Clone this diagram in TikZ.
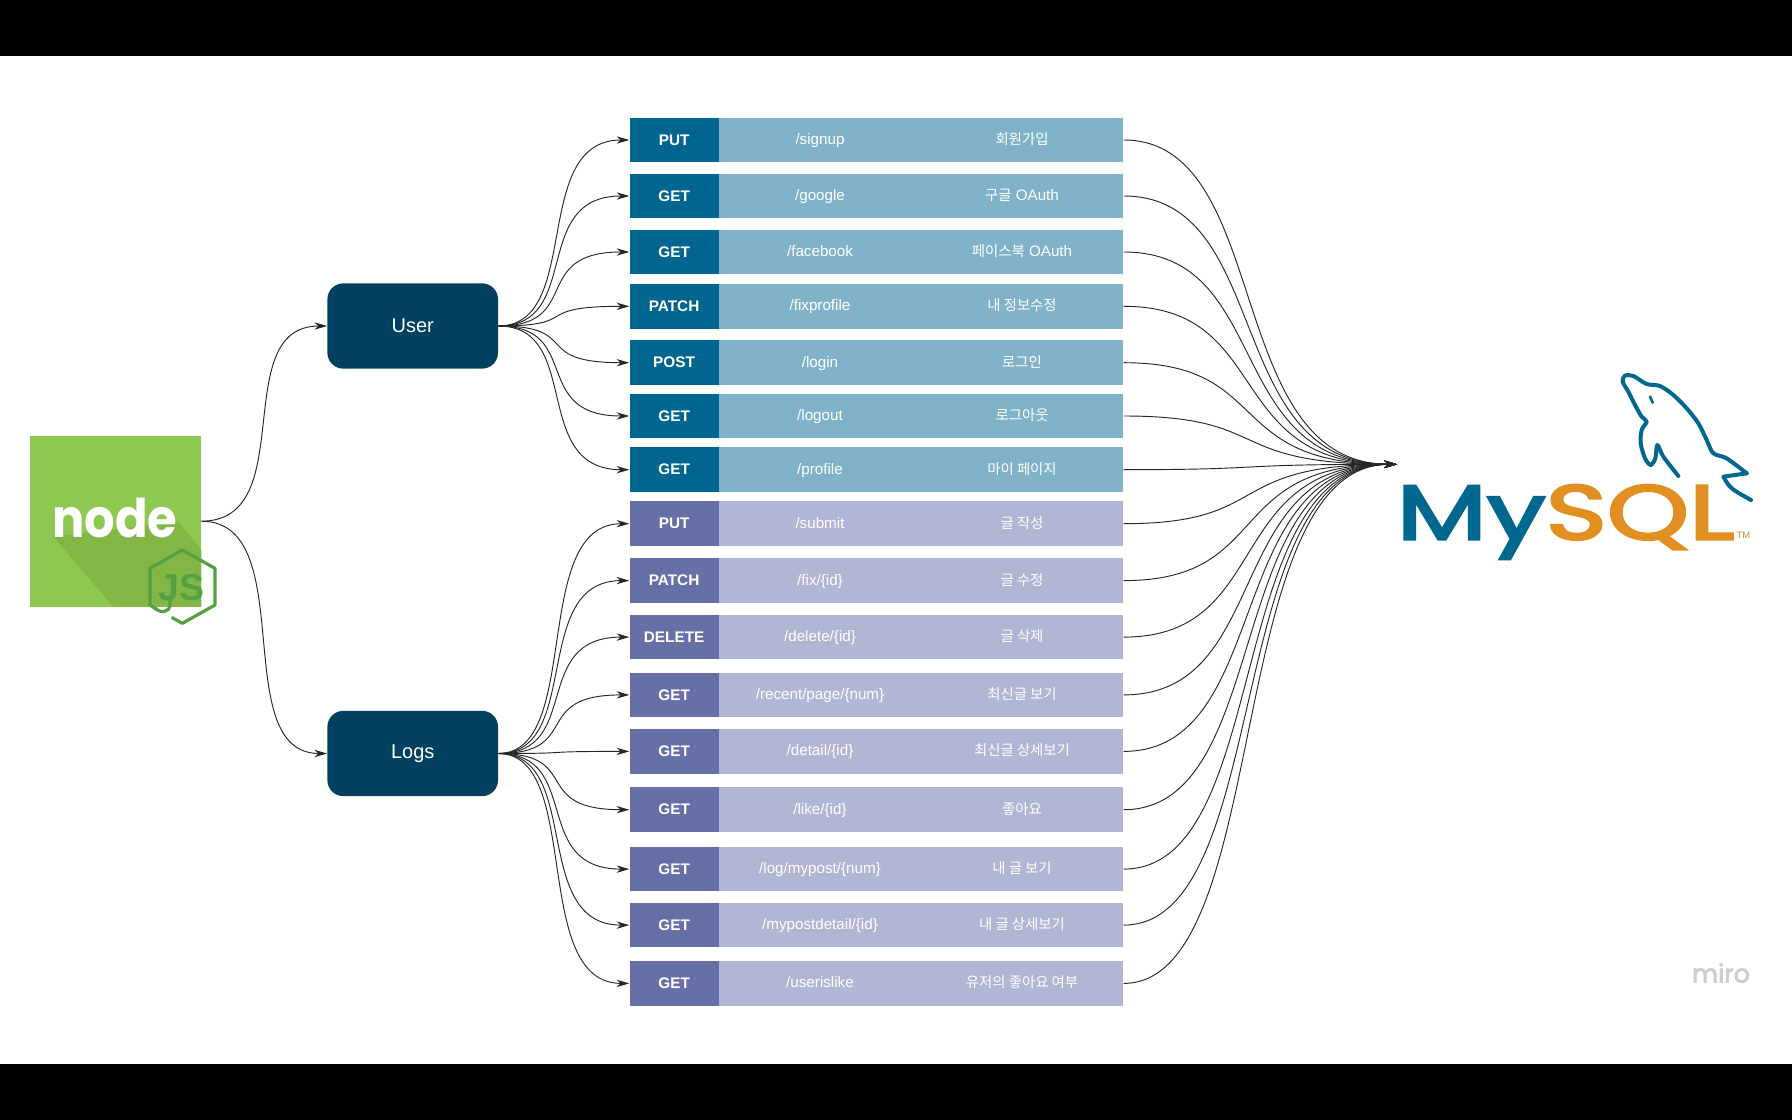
\documentclass[tikz,border=0pt]{standalone}
\usepackage{fontspec}
\setmainfont{Liberation Sans}
\newfontfamily\kofont{Noto Sans CJK KR}
\newfontfamily\logofont{Poppins}
\newfontfamily\mysqlfont[FakeBold=3]{Poppins}
\usetikzlibrary{arrows.meta}
\definecolor{userDark}{HTML}{024060}
\definecolor{userMethod}{HTML}{00668F}
\definecolor{userBody}{HTML}{80B3C9}
\definecolor{logMethod}{HTML}{666FA6}
\definecolor{logBody}{HTML}{B2B6D5}
\definecolor{nodeGreen}{HTML}{8DC850}
\definecolor{nodeShade}{HTML}{82B645}
\definecolor{jsGreen}{HTML}{55A040}
\definecolor{mysqlBlue}{HTML}{00678F}
\definecolor{mysqlOrange}{HTML}{E08F20}
\definecolor{miroGray}{HTML}{CBCDD3}
\newcommand{\ko}[1]{{\kofont\fontsize{10.8}{12}\selectfont #1}}
\tikzset{group/.style={rectangle,rounded corners=12pt,fill=userDark,text=white,minimum width=128pt,minimum height=64pt,inner sep=0pt,font=\fontsize{15}{18}\selectfont}}
\tikzset{method/.style={rectangle,text=white,minimum width=66.9pt,minimum height=33.4pt,inner sep=0pt,font=\fontsize{11.5}{13}\selectfont\bfseries}}
\tikzset{body/.style={rectangle,minimum width=303.5pt,minimum height=33.4pt,inner sep=0pt}}
\tikzset{label/.style={anchor=base,text=white,inner sep=0pt,font=\fontsize{11.4}{13}\selectfont}}
\tikzset{link/.style={draw=black!85,line width=0.7pt,-{Stealth[length=9.5pt,width=5.5pt]}}}

\begin{document}
\begin{tikzpicture}[x=0.75pt,y=-0.75pt]
\useasboundingbox (0,0) rectangle (1792,1120);
\fill[white] (0,0) rectangle (1792,1120);
\fill[black] (0,0) rectangle (1792,56);
\fill[black] (0,1064) rectangle (1792,1120);

\node[rectangle,fill=nodeGreen,minimum width=128pt,minimum height=128pt,inner sep=0pt] (nodeLogo) at (115.7,521.2) {};
\node[group] (User) at (412.7,326) {User};
\node[group] (Logs) at (412.7,753.5) {Logs};
\coordinate (db) at (1397,464.3);

% routes
\foreach \i/\y/\m/\p/\d in {1/140/PUT/{/signup}/{\ko{회원가입}},
	2/196/GET/{/google}/{\ko{구글} OAuth},
	3/252/GET/{/facebook}/{\ko{페이스북} OAuth},
	4/306.3/PATCH/{/fixprofile}/{\ko{내 정보수정}},
	5/362.7/POST/{/login}/{\ko{로그인}},
	6/416/GET/{/logout}/{\ko{로그아웃}},
	7/469.7/GET/{/profile}/{\ko{마이 페이지}}} {
	\node[method,fill=userMethod] (mU\i) at (674.1,\y) {\m};
	\node[body,fill=userBody] (bU\i) at (921,\y) {};
	\node[label] (pU\i) at (820,\y+4.5) {\p};
	\node[label] (dU\i) at (1022,\y+4.5) {\d};
	\draw[link] (User.east) .. controls +(85,0) and +(-100,0) .. (mU\i.west);
	\draw[link] (bU\i.east) .. controls +(150,0) and +(-175,0) .. (db);
}
\foreach \i/\y/\m/\p/\d in {1/523.7/PUT/{/submit}/{\ko{글 작성}},
	2/580.6/PATCH/{/fix/\{id\}}/{\ko{글 수정}},
	3/637.1/DELETE/{/delete/\{id\}}/{\ko{글 삭제}},
	4/694.9/GET/{/recent/page/\{num\}}/{\ko{최신글 보기}},
	5/751.4/GET/{/detail/\{id\}}/{\ko{최신글 상세보기}},
	6/809.7/GET/{/like/\{id\}}/{\ko{좋아요}},
	7/869.1/GET/{/log/mypost/\{num\}}/{\ko{내 글 보기}},
	8/925.1/GET/{/mypostdetail/\{id\}}/{\ko{내 글 상세보기}},
	9/983.4/GET/{/userislike}/{\ko{유저의 좋아요 여부}}} {
	\node[method,fill=logMethod] (mL\i) at (674.1,\y) {\m};
	\node[body,fill=logBody] (bL\i) at (921,\y) {};
	\node[label] (pL\i) at (820,\y+4.5) {\p};
	\node[label] (dL\i) at (1022,\y+4.5) {\d};
	\draw[link] (Logs.east) .. controls +(85,0) and +(-100,0) .. (mL\i.west);
	\draw[link] (bL\i.east) .. controls +(150,0) and +(-175,0) .. (db);
}
\draw[link] (nodeLogo.east) .. controls +(100,0) and +(-100,0) .. (User.west);
\draw[link] (nodeLogo.east) .. controls +(100,0) and +(-100,0) .. (Logs.west);

% node logo
\begin{scope}[shift={(0,400)},x=0.25pt,y=-0.25pt]
\fill[nodeShade] (160,410) -- (340,620) -- (604,620) -- (604,450) -- (535,365) -- cycle;
\node[anchor=base,text=white,inner sep=0pt] (nodeName) at (345,412) {\scalebox{0.9}[1]{\logofont\bfseries\fontsize{40}{40}\selectfont node}};
\draw[jsGreen,line width=2.4pt,line join=round] (515,652) -- (547,670) -- (645,615) -- (645,505) -- (547,450) -- (450,505) -- (450,615) -- (470,628);
\draw[jsGreen,line width=2.4pt] (510,590) -- (510,612) .. controls (510,640) and (480,640) .. (465,624);
\node[anchor=base,text=jsGreen,inner sep=0pt] (jsName) at (545,600) {\bfseries\fontsize{28}{28}\selectfont JS};
\end{scope}

% mysql logo
\begin{scope}[shift={(1380,360)},x=0.25pt,y=-0.25pt]
\node[anchor=base,inner sep=0pt] (mysqlName) at (557,538) {\scalebox{1.35}[1]{\mysqlfont\fontsize{58}{58}\selectfont{\color{mysqlBlue}My}{\color{mysqlOrange}SQL}}};
\node[anchor=base,text=mysqlOrange!70!gray,inner sep=0pt] (tmName) at (1090,535) {\fontsize{7}{7}\selectfont TM};
\draw[mysqlBlue,line width=3pt,line join=round,line cap=round] plot[smooth,tension=0.5] coordinates {(895,348) (850,290) (832,255) (826,295) (812,315) (795,295) (782,250) (785,210) (800,185) (785,170) (765,135) (745,95) (728,65) (735,47) (760,48) (800,72) (840,78) (880,105) (920,145) (955,190) (980,240) (1000,280) (1040,295) (1100,340)};
\draw[mysqlBlue,line width=3pt,line join=round,line cap=round] (1100,340) -- (1030,350) .. controls (1050,385) .. (1113,420);
\draw[mysqlBlue,line width=2pt,line cap=round] (810,110) -- (818,128);
\end{scope}

\node[text=miroGray,inner sep=0pt] (miroName) at (1721,973) {\mysqlfont\fontsize{19}{19}\selectfont miro};
\end{tikzpicture}
\end{document}
